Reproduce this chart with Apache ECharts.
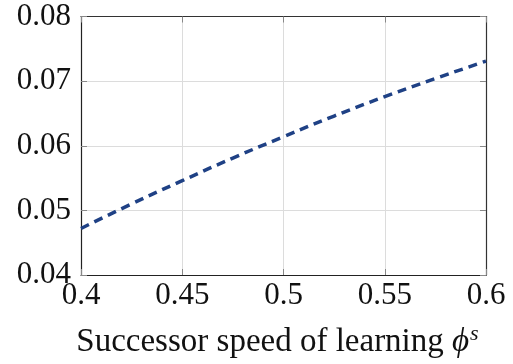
<!DOCTYPE html>
<html><head><meta charset="utf-8">
<script src="https://cdn.jsdelivr.net/npm/echarts@6/dist/echarts.min.js"></script>
<style>html,body{margin:0;padding:0;background:#fff}#c{width:513px;height:364px}</style>
</head><body><div id="c"></div>
<script>
const xValues = [0.4, 0.425, 0.45, 0.475, 0.5, 0.525, 0.55, 0.575, 0.6];
const yValues = [0.0472, 0.0510, 0.0546, 0.0581, 0.0614, 0.0646, 0.0676, 0.0704, 0.0731];
const xTicks = [0.4, 0.45, 0.5, 0.55, 0.6];
const yTicks = [0.04, 0.05, 0.06, 0.07, 0.08];
const xName = 'Successor speed of learning ';

const font = 'Liberation Serif';
const chart = echarts.init(document.getElementById('c'), null, {renderer: 'canvas'});
const fmtX = v => String(+(+v).toFixed(2));
const fmtY = v => (+v).toFixed(2);
chart.setOption({
  animation: false,
  grid: {left: 81, right: 27, top: 16.5, bottom: 89, containLabel: false},
  xAxis: [{
    type: 'value', min: xTicks[0], max: xTicks[xTicks.length-1], interval: 0.05,
    axisLine: {show: true, lineStyle: {color: '#222', width: 1.2}},
    axisTick: {show: true, inside: true, length: 6, lineStyle: {color: '#888'}},
    splitLine: {show: true, lineStyle: {color: '#dcdcdc', width: 1}},
    axisLabel: {formatter: fmtX, fontFamily: font, fontSize: 31, color: '#111', margin: 5},
    name: xName + '{i|ϕ}{s|s}', nameLocation: 'middle', nameGap: 48,
    nameTextStyle: {fontFamily: font, fontSize: 33, color: '#111', padding: [0, 12, 0, 0],
      rich: {i: {fontFamily: font, fontStyle: 'italic', fontSize: 33, color: '#111'},
             s: {fontFamily: font, fontStyle: 'italic', fontSize: 22, color: '#111', verticalAlign: 'top', padding: [0,0,16,1]}}}
  }, {
    type: 'value', position: 'top', min: xTicks[0], max: xTicks[xTicks.length-1], interval: 0.05,
    axisLine: {show: true, lineStyle: {color: '#333', width: 1.2}},
    axisTick: {show: true, inside: true, length: 6, lineStyle: {color: '#888'}},
    splitLine: {show: false}, axisLabel: {show: false}
  }],
  yAxis: [{
    type: 'value', min: yTicks[0], max: yTicks[yTicks.length-1], interval: 0.01,
    axisLine: {show: true, lineStyle: {color: '#222', width: 1.2}},
    axisTick: {show: true, inside: true, length: 6, lineStyle: {color: '#888'}},
    splitLine: {show: true, lineStyle: {color: '#dcdcdc', width: 1}},
    axisLabel: {formatter: fmtY, fontFamily: font, fontSize: 31, color: '#111', margin: 10}
  }, {
    type: 'value', position: 'right', min: yTicks[0], max: yTicks[yTicks.length-1], interval: 0.01,
    axisLine: {show: true, lineStyle: {color: '#333', width: 1.2}},
    axisTick: {show: true, inside: true, length: 6, lineStyle: {color: '#888'}},
    splitLine: {show: false}, axisLabel: {show: false}
  }],
  series: [{
    type: 'line', xAxisIndex: 0, yAxisIndex: 0,
    data: xValues.map((x, i) => [x, yValues[i]]),
    smooth: true, showSymbol: false,
    lineStyle: {color: '#1f4185', width: 3.5, type: [9, 6]}
  }]
});
</script></body></html>
